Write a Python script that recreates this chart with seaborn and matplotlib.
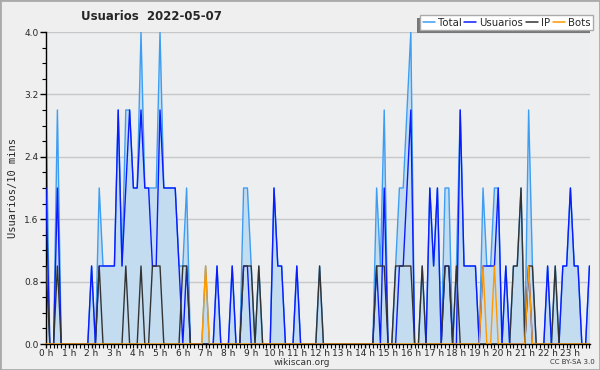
import numpy as np
import pandas as pd
import matplotlib
matplotlib.use("Agg")
import matplotlib.pyplot as plt
import seaborn as sns
from matplotlib.lines import Line2D
from matplotlib.patches import Rectangle
from matplotlib.ticker import MultipleLocator, FixedLocator, FuncFormatter

# 10-minute bins, 6 per hour (one row per hour)
total = [
    3, 0, 0, 3, 0, 0,
    0, 0, 0, 0, 0, 0,
    1, 0, 2, 1, 1, 1,
    1, 3, 1, 3, 3, 2,
    2, 4, 2, 2, 2, 2,
    4, 2, 2, 2, 2, 1,
    1, 2, 0, 0, 0, 0,
    1, 0, 0, 1, 0, 0,
    0, 1, 0, 0, 2, 2,
    1, 0, 1, 0, 0, 0,
    2, 1, 1, 0, 0, 0,
    1, 0, 0, 0, 0, 0,
    1, 0, 0, 0, 0, 0,
    0, 0, 0, 0, 0, 0,
    0, 0, 0, 2, 1, 3,
    0, 0, 1, 2, 2, 3,
    4, 0, 0, 1, 0, 2,
    1, 2, 0, 2, 2, 0,
    1, 3, 1, 1, 1, 1,
    0, 2, 1, 1, 2, 2,
    0, 1, 0, 1, 1, 2,
    0, 3, 1, 0, 0, 0,
    1, 0, 1, 0, 1, 1,
    2, 1, 1, 0, 0, 1,
]
usuarios = [
    2, 0, 0, 2, 0, 0,
    0, 0, 0, 0, 0, 0,
    1, 0, 1, 1, 1, 1,
    1, 3, 1, 2, 3, 2,
    2, 3, 2, 2, 1, 1,
    3, 2, 2, 2, 2, 1,
    0, 1, 0, 0, 0, 0,
    0, 0, 0, 1, 0, 0,
    0, 1, 0, 0, 1, 1,
    0, 0, 0, 0, 0, 0,
    2, 1, 1, 0, 0, 0,
    1, 0, 0, 0, 0, 0,
    0, 0, 0, 0, 0, 0,
    0, 0, 0, 0, 0, 0,
    0, 0, 0, 1, 0, 2,
    0, 0, 0, 1, 1, 2,
    3, 0, 0, 0, 0, 2,
    1, 2, 0, 1, 1, 0,
    0, 3, 1, 1, 1, 1,
    0, 1, 1, 1, 1, 2,
    0, 1, 0, 0, 0, 0,
    0, 1, 0, 0, 0, 0,
    1, 0, 0, 0, 1, 1,
    2, 1, 1, 0, 0, 1,
]
ip = [
    1, 0, 0, 1, 0, 0,
    0, 0, 0, 0, 0, 0,
    0, 0, 1, 0, 0, 0,
    0, 0, 0, 1, 0, 0,
    0, 1, 0, 0, 1, 1,
    1, 0, 0, 0, 0, 0,
    1, 1, 0, 0, 0, 0,
    0, 0, 0, 0, 0, 0,
    0, 0, 0, 0, 1, 1,
    1, 0, 1, 0, 0, 0,
    0, 0, 0, 0, 0, 0,
    0, 0, 0, 0, 0, 0,
    1, 0, 0, 0, 0, 0,
    0, 0, 0, 0, 0, 0,
    0, 0, 0, 1, 1, 1,
    0, 0, 1, 1, 1, 1,
    1, 0, 0, 1, 0, 0,
    0, 0, 0, 1, 1, 0,
    1, 0, 0, 0, 0, 0,
    0, 0, 0, 0, 0, 0,
    0, 0, 0, 1, 1, 2,
    0, 1, 1, 0, 0, 0,
    0, 0, 1, 0, 0, 0,
    0, 0, 0, 0, 0, 0,
]
bots = [
    0, 0, 0, 0, 0, 0,
    0, 0, 0, 0, 0, 0,
    0, 0, 0, 0, 0, 0,
    0, 0, 0, 0, 0, 0,
    0, 0, 0, 0, 0, 0,
    0, 0, 0, 0, 0, 0,
    0, 0, 0, 0, 0, 0,
    1, 0, 0, 0, 0, 0,
    0, 0, 0, 0, 0, 0,
    0, 0, 0, 0, 0, 0,
    0, 0, 0, 0, 0, 0,
    0, 0, 0, 0, 0, 0,
    0, 0, 0, 0, 0, 0,
    0, 0, 0, 0, 0, 0,
    0, 0, 0, 0, 0, 0,
    0, 0, 0, 0, 0, 0,
    0, 0, 0, 0, 0, 0,
    0, 0, 0, 0, 0, 0,
    0, 0, 0, 0, 0, 0,
    0, 1, 0, 0, 1, 0,
    0, 0, 0, 0, 0, 0,
    0, 1, 0, 0, 0, 0,
    0, 0, 0, 0, 0, 0,
    0, 0, 0, 0, 0, 0,
]
series_names = ["Total", "Usuarios", "IP", "Bots"]
hour_labels = [f"{h} h" for h in range(24)]
y_ticks = [0.0, 0.8, 1.6, 2.4, 3.2, 4.0]

colors = {"Total": "#3d9df2", "Usuarios": "#0a1cff", "IP": "#333333", "Bots": "#ff9900"}

sns.set_theme(style="white")
plt.rcParams['font.family'] = ['DejaVu Sans']

fig = plt.figure(figsize=(6, 3.7), dpi=100, facecolor="#efefef")
ax = fig.add_axes([46 / 600, 1 - 344 / 370, 544 / 600, 312 / 370])
ax.set_facecolor("#eceef0")

hours = np.arange(len(total)) / 6.0
df = pd.DataFrame({"h": hours, "Total": total, "Usuarios": usuarios, "IP": ip, "Bots": bots})

for yt in y_ticks[1:]:
    ax.axhline(yt, color="#c8c8c8", lw=1, zorder=0.5)

ax.fill_between(df["h"], df["Total"], color="#c4dcf0", lw=0, zorder=1)
for i, name in enumerate(series_names):
    sns.lineplot(data=df, x="h", y=name, ax=ax, color=colors[name], lw=1.0,
                 legend=False, zorder=2 + i)

ax.set_xlim(0, 143.15 / 6)
ax.set_ylim(0, 4.0)
ax.xaxis.set_major_locator(FixedLocator(list(range(24))))
ax.set_xticklabels(hour_labels)
ax.xaxis.set_minor_locator(MultipleLocator(1 / 6))
ax.yaxis.set_major_locator(FixedLocator(y_ticks))
ax.yaxis.set_major_formatter(FuncFormatter(lambda v, p: f"{v:.1f}"))
ax.yaxis.set_minor_locator(MultipleLocator(0.2))
ax.tick_params(axis="x", which="major", direction="out", length=3, width=1,
               color="black", labelsize=6.5, pad=0.5, bottom=True)
ax.tick_params(axis="y", which="major", direction="out", length=4, width=1,
               color="black", labelsize=6.5, pad=1.5, left=True)
ax.tick_params(axis="both", which="minor", direction="out", length=3, width=0.8,
               color="black", bottom=True, left=True)
ax.set_xlabel("")
ax.set_ylabel("Usuarios/10 mins", fontsize=7.5, family="DejaVu Sans Mono", labelpad=4)
for s in ["top", "right"]:
    ax.spines[s].set_visible(False)
for s in ["left", "bottom"]:
    ax.spines[s].set_color("black")
    ax.spines[s].set_linewidth(1)

fig.text(151 / 600, 1 - 17 / 370, "Usuarios  2022-05-07", fontsize=8.5, fontweight="bold",
         ha="center", va="center")
fig.text(302 / 600, 1 - 362.5 / 370, "wikiscan.org", fontsize=6.5, ha="center", va="center",
         color="#333333")
fig.text(572 / 600, 1 - 362.5 / 370, "CC BY-SA 3.0", fontsize=5, ha="center", va="center",
         color="#333333")

handles = [Line2D([0], [0], color=colors[n], lw=1.1) for n in series_names]
leg = fig.legend(handles, series_names, loc="upper right",
                 bbox_to_anchor=(593 / 600, 1 - 15 / 370), ncol=4, fontsize=7.3,
                 frameon=True, fancybox=False, shadow=False, handlelength=1.2,
                 handletextpad=0.3, columnspacing=0.25, borderpad=0.25,
                 borderaxespad=0)
leg.get_frame().set_edgecolor("#aaaaaa")
leg.get_frame().set_facecolor("white")
leg.get_frame().set_alpha(1)
leg.set_zorder(10)

fig.canvas.draw()
bb = leg.get_window_extent()
shadow = Rectangle((bb.x0 - 3, bb.y0 - 3), bb.width, bb.height, transform=None,
                   facecolor="#777777", edgecolor="none", zorder=9)
fig.add_artist(shadow)

fig.add_artist(Rectangle((0, 0), 1, 1, transform=fig.transFigure, fill=False,
                         edgecolor="#aaaaaa", lw=2, zorder=20))

fig.savefig("out.png", dpi=100, facecolor=fig.get_facecolor())
